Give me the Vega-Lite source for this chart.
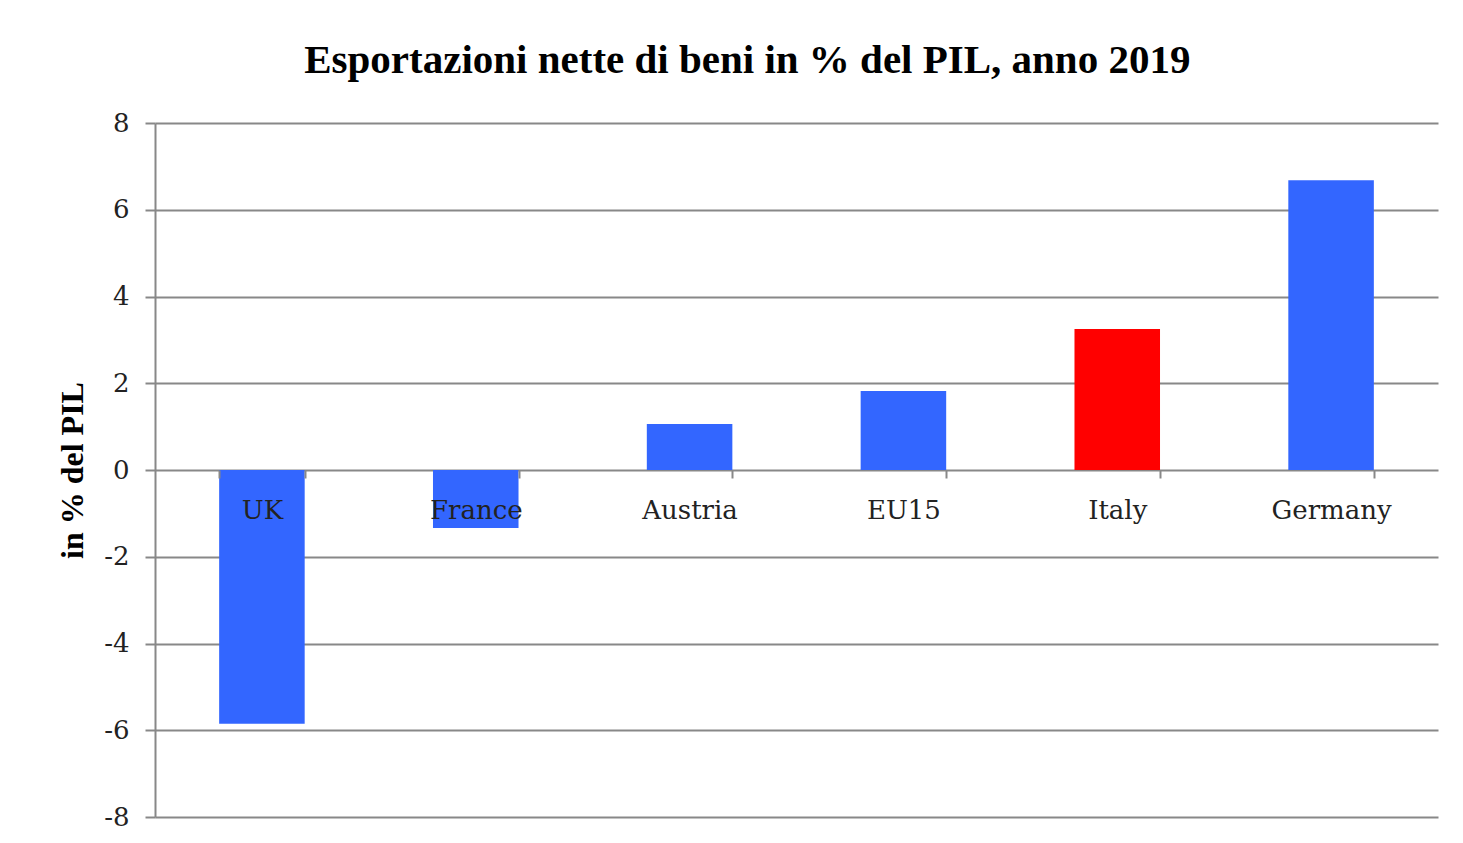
{
  "$schema": "https://vega.github.io/schema/vega-lite/v6.json",
  "width": 1283,
  "height": 694,
  "autosize": "none",
  "padding": {"left": 155, "top": 123, "right": 25, "bottom": 26},
  "background": "white",
  "title": {
    "text": "Esportazioni nette di beni in % del PIL, anno 2019",
    "font": "Liberation Serif",
    "fontSize": 41,
    "fontWeight": "bold",
    "color": "#000000",
    "anchor": "middle",
    "frame": "bounds",
    "offset": 28
  },
  "data": {
    "values": [
      {"country": "UK", "value": -5.85, "group": "other"},
      {"country": "France", "value": -1.34, "group": "other"},
      {"country": "Austria", "value": 1.06, "group": "other"},
      {"country": "EU15", "value": 1.82, "group": "other"},
      {"country": "Italy", "value": 3.25, "group": "italy"},
      {"country": "Germany", "value": 6.68, "group": "other"}
    ]
  },
  "config": {"view": {"stroke": null}},
  "mark": {"type": "bar"},
  "encoding": {
    "x": {
      "field": "country",
      "type": "nominal",
      "sort": null,
      "scale": {"paddingInner": 0.6, "paddingOuter": 0.3},
      "axis": {
        "title": null,
        "orient": "bottom",
        "offset": -347,
        "domain": false,
        "ticks": true,
        "tickBand": "extent",
        "tickSize": 8,
        "tickColor": "#888888",
        "tickWidth": 2,
        "labelAngle": 0,
        "labelFont": "DejaVu Serif",
        "labelFontSize": 26,
        "labelColor": "#222222",
        "labelPadding": 19,
        "grid": false,
        "zindex": 1
      }
    },
    "y": {
      "field": "value",
      "type": "quantitative",
      "scale": {"domain": [-8, 8], "nice": false},
      "axis": {
        "values": [-8, -6, -4, -2, 0, 2, 4, 6, 8],
        "labelExpr": "toString(datum.value)",
        "grid": true,
        "gridColor": "#888888",
        "gridWidth": 2,
        "domainColor": "#888888",
        "domainWidth": 2,
        "tickColor": "#888888",
        "tickWidth": 2,
        "tickSize": 10,
        "labelFont": "DejaVu Serif",
        "labelFontSize": 26,
        "labelColor": "#222222",
        "labelPadding": 16,
        "title": "in % del PIL",
        "titleFont": "Liberation Serif",
        "titleFontSize": 32,
        "titleFontWeight": "bold",
        "titleColor": "#000000",
        "titlePadding": 14
      }
    },
    "color": {
      "field": "group",
      "type": "nominal",
      "scale": {"domain": ["other", "italy"], "range": ["#3366FF", "#FF0000"]},
      "legend": null
    }
  }
}
